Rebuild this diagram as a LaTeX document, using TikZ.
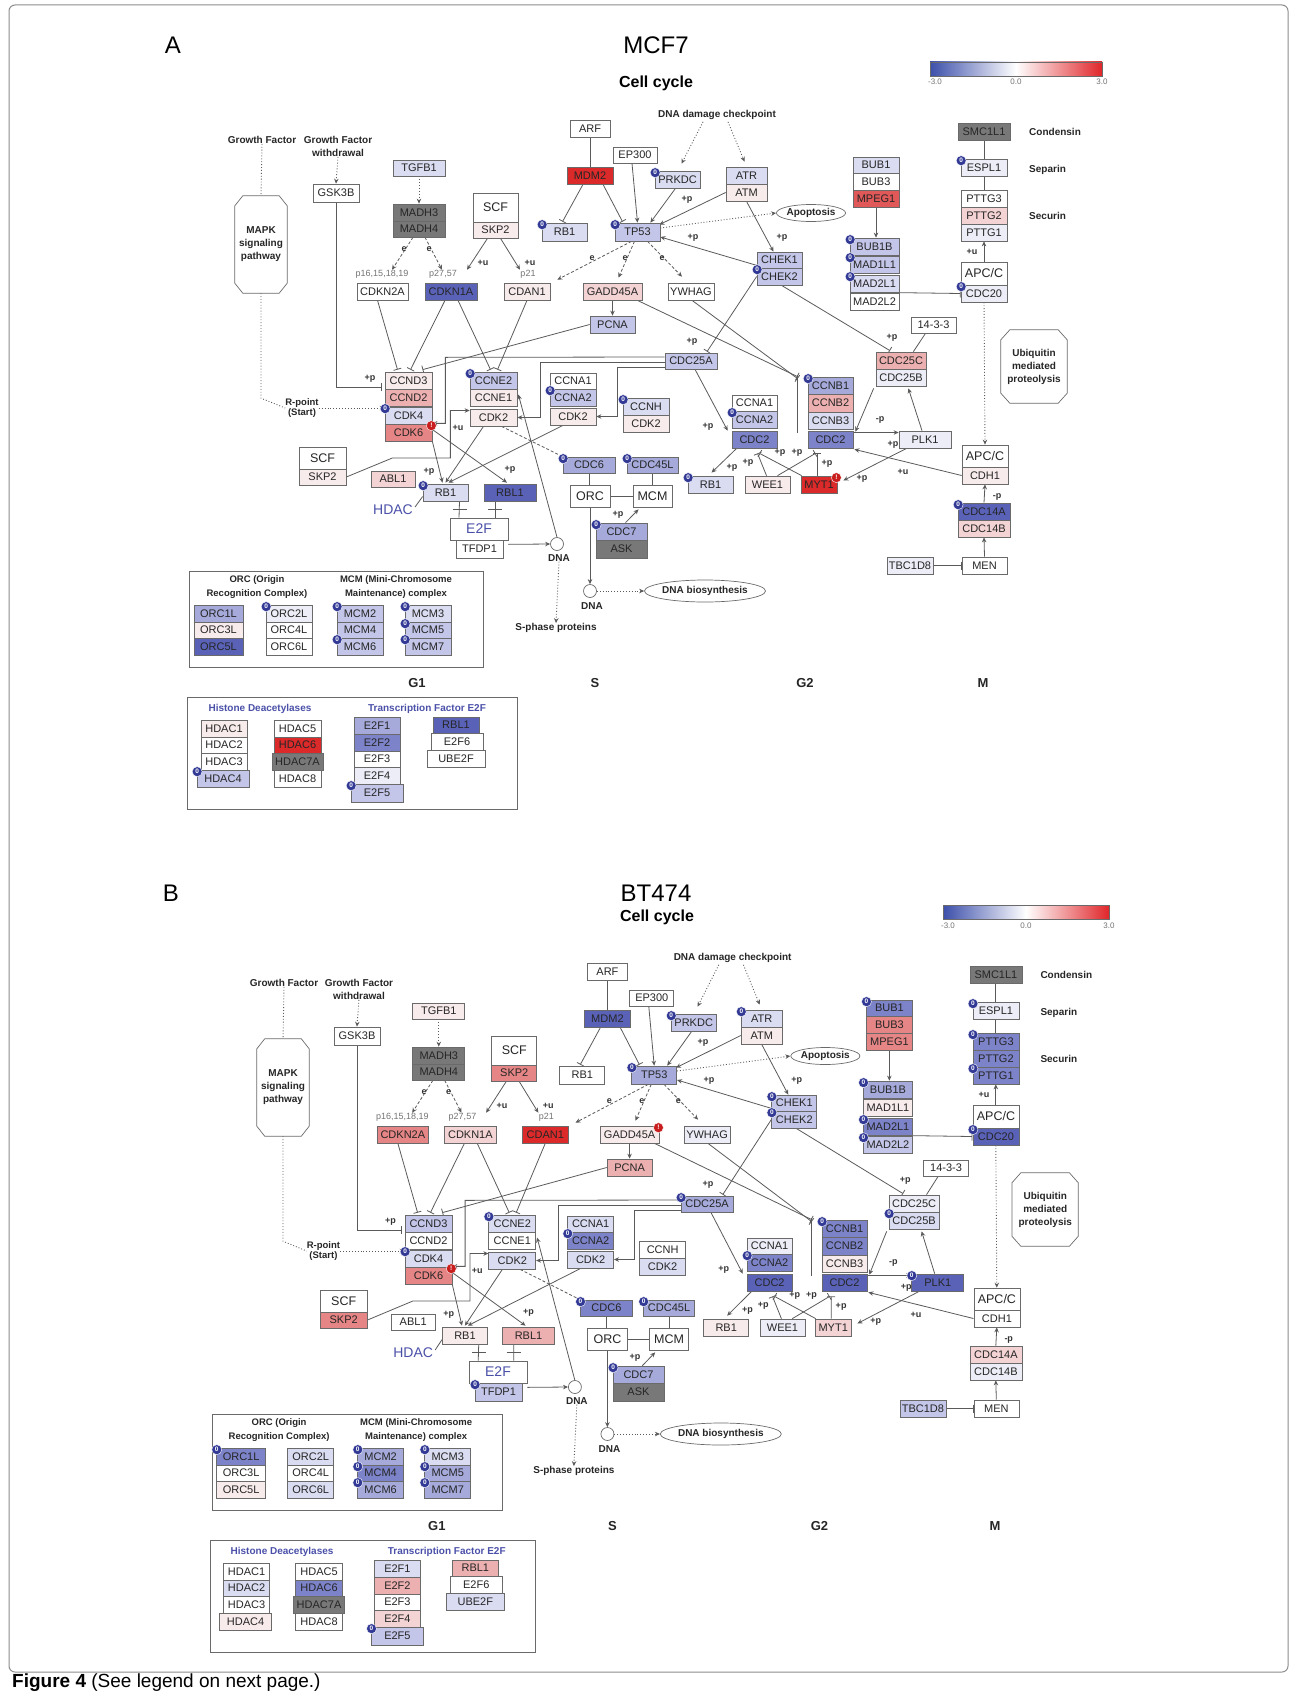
\documentclass[tikz,border=0pt]{standalone}
\usepackage{fontspec}
\setmainfont{Liberation Sans}
\usetikzlibrary{arrows.meta,calc,shapes.geometric}
\pgfdeclarelayer{bg}\pgfsetlayers{bg,main}
\definecolor{W}{HTML}{FFFFFF}
\definecolor{P1}{HTML}{F8EBEB}
\definecolor{P2}{HTML}{F3D3D3}
\definecolor{P3}{HTML}{EDB0B0}
\definecolor{P4}{HTML}{E58585}
\definecolor{P5}{HTML}{E05858}
\definecolor{P6}{HTML}{DC2A2A}
\definecolor{B1}{HTML}{ECEDF7}
\definecolor{B2}{HTML}{DADCF1}
\definecolor{B3}{HTML}{C3C6E8}
\definecolor{B4}{HTML}{A5AADB}
\definecolor{B5}{HTML}{7C83C9}
\definecolor{B6}{HTML}{5A62B8}
\definecolor{G}{HTML}{787878}
\definecolor{bx}{HTML}{6A6A6A}
\definecolor{lc}{HTML}{5A5A5A}
\definecolor{navy}{HTML}{333A96}
\definecolor{rbd}{HTML}{C81E1E}
\definecolor{hblue}{HTML}{4A50A8}
\definecolor{cbB}{HTML}{3C4FAA}
\definecolor{cbR}{HTML}{E0262A}
\newcommand\kc[2]{\colorlet{c#1}{#2}}
\newcommand\bxf{\fontsize{11}{12}\selectfont}
\newcommand\bgf{\fontsize{12.5}{14}\selectfont}
\newcommand\efont{\fontsize{14}{15}\selectfont}
\newcounter{lbc}
\newcommand\lab[3]{\stepcounter{lbc}\node[elab] (lb\arabic{lbc}) at (#1,#2) {#3};}
\newcommand\bx[7][]{\pgfmathsetmacro\bxw{#5-#3}\pgfmathsetmacro\bxh{#6-#4}\pgfmathsetmacro\bxx{(#3+#5)/2}\pgfmathsetmacro\bxy{(#4+#6)/2}\node[gbox,fill=c#2,minimum width=\bxw pt,minimum height=\bxh pt,#1] (#2) at (\bxx,\bxy) {#7};}
\tikzset{
 gbox/.style={draw=bx, line width=0.7pt, inner sep=0pt, font=\bxf, text=black!85},
 bxl/.style={draw=bx, line width=0.7pt},
 ln/.style={draw=lc, line width=0.8pt},
 ar/.style={-{Stealth[length=5pt,width=4.5pt]}},
 tb/.style={-{Bar[width=8pt]}},
 dl/.style={draw=lc, line width=0.9pt, dotted},
 dsh/.style={draw=lc, line width=0.8pt, dash pattern=on 3pt off 2pt},
 elab/.style={font=\bfseries\fontsize{9}{10}\selectfont, text=black!80, inner sep=0pt},
 ann/.style={font=\bfseries\fontsize{10}{13}\selectfont, align=center, inner sep=0pt, text=black!85},
 sml/.style={font=\fontsize{9}{10}\selectfont, text=black!55, inner sep=0pt},
 phase/.style={font=\bfseries\fontsize{13}{15}\selectfont, text=black!85, inner sep=0pt},
 bdg/.style={circle, fill=navy, draw=white, line width=0.4pt, inner sep=0pt, minimum size=10pt, text=white, font=\bfseries\fontsize{6.5}{7}\selectfont},
 rbdg/.style={bdg, fill=rbd},
}
\newcommand\octo[3]{\draw[bxl] ([xshift=#2]#1.north west) -- ([xshift=-#2]#1.north east) -- ([yshift=-#3]#1.north east) -- ([yshift=#3]#1.south east) -- ([xshift=-#2]#1.south east) -- ([xshift=#2]#1.south west) -- ([yshift=#3]#1.south west) -- ([yshift=-#3]#1.north west) -- cycle;}
\newcommand\drawpanel{%
\node[ann] (gf) at (262,140) {Growth Factor};
\node[ann] (gfw) at (338,146.5) {Growth Factor\\withdrawal};
\node[ann, minimum width=52pt, minimum height=97pt] (MAPK) at (261,244.5) {MAPK\\signaling\\pathway};
\octo{MAPK}{8pt}{10pt}
\node[ann, font=\bfseries\fontsize{9.5}{10.5}\selectfont] (rpt) at (302,408) {R-point\\(Start)};
\node[ann] (ddc) at (717,115) {DNA damage checkpoint};
\node[sml] (lp16) at (382,274) {p16,15,18,19};
\node[sml] (lp27) at (443,274) {p27,57};
\node[sml] (lp21) at (528,274) {p21};
\node[font=\fontsize{14}{16}\selectfont, text=hblue, inner sep=0pt] (hdac) at (393,510) {HDAC};
\node[ann, anchor=west] (cond) at (1029,132) {Condensin};
\node[ann, anchor=west] (sepa) at (1029,170) {Separin};
\node[ann, anchor=west] (secu) at (1029,216) {Securin};
\node[ann, minimum width=66pt, minimum height=73pt] (UBQ) at (1034,366.5) {Ubiquitin\\mediated\\proteolysis};
\octo{UBQ}{9pt}{10pt}
\node[ann, ellipse, draw=bx, line width=0.7pt, minimum width=68pt, minimum height=17pt] (apop) at (811,213) {Apoptosis};
\node[ann, ellipse, draw=bx, line width=0.7pt, minimum width=96pt, minimum height=22pt] (dnab) at (705,591) {DNA biosynthesis};
\node[circle, draw=bx, line width=0.7pt, minimum size=13pt, inner sep=0pt] (dna1) at (557,544) {};
\node[ann] (dna1l) at (559,558) {DNA};
\node[circle, draw=bx, line width=0.7pt, minimum size=13pt, inner sep=0pt] (dna2) at (590,591) {};
\node[ann] (dna2l) at (592,606) {DNA};
\node[ann] (sph) at (556,628) {S-phase proteins};
\node[phase] (ph1) at (417,683) {G1};
\node[phase] (ph2) at (595,683) {S};
\node[phase] (ph3) at (805,683) {G2};
\node[phase] (ph4) at (983,683) {M};
% boxes
\bx{TGFB1}{393}{160}{445}{176}{TGFB1}
\bx{GSK3B}{313}{184}{359}{202}{GSK3B}
\bx{MADH3}{393}{204}{445}{221}{MADH3}
\bx{MADH4}{393}{221}{445}{237}{MADH4}
\bx[font=\bgf]{SCFa}{473}{193}{518}{222}{SCF}
\bx{SKP2a}{473}{222}{518}{238}{SKP2}
\bx{CDKN2A}{357}{283}{408}{300}{CDKN2A}
\bx{CDKN1A}{425}{283}{477}{300}{CDKN1A}
\bx{CDAN1}{504}{283}{550}{300}{CDAN1}
\bx{ARF}{570}{120}{610}{137}{ARF}
\bx{MDM2}{567}{167}{613}{184}{MDM2}
\bx{RB1a}{542}{223}{587}{241}{RB1}
\bx{EP300}{613}{147}{657}{163}{EP300}
\bx{PRKDC}{655}{171}{700}{188}{PRKDC}
\bx{ATR}{726}{167}{767}{184}{ATR}
\bx{ATM}{726}{184}{767}{201}{ATM}
\bx{TP53}{615}{223}{660}{241}{TP53}
\bx{CHEK1}{757}{252}{802}{268}{CHEK1}
\bx{CHEK2}{757}{268}{802}{285}{CHEK2}
\bx{GADD45A}{583}{283}{642}{300}{GADD45A}
\bx{YWHAG}{668}{283}{714}{300}{YWHAG}
\bx{PCNA}{590}{316}{635}{333}{PCNA}
\bx{BUB1}{853}{157}{899}{173}{BUB1}
\bx{BUB3}{853}{173}{899}{190}{BUB3}
\bx{MPEG1}{853}{190}{899}{207}{MPEG1}
\bx{BUB1B}{850}{238}{899}{255}{BUB1B}
\bx{MAD1L1}{850}{256}{899}{273}{MAD1L1}
\bx{MAD2L1}{850}{275}{899}{292}{MAD2L1}
\bx{MAD2L2}{850}{293}{899}{310}{MAD2L2}
\bx{SMC1L1}{958}{123}{1010}{140}{SMC1L1}
\bx{ESPL1}{961}{159}{1007}{176}{ESPL1}
\bx{PTTG3}{961}{190}{1007}{207}{PTTG3}
\bx{PTTG2}{961}{207}{1007}{224}{PTTG2}
\bx{PTTG1}{961}{224}{1007}{241}{PTTG1}
\bx[font=\bgf]{APCa}{961}{262}{1007}{285}{APC/C}
\bx{CDC20}{961}{285}{1007}{302}{CDC20}
\bx{T1433}{911}{317}{956}{333}{14-3-3}
\bx{CDC25C}{876}{352}{926}{369}{CDC25C}
\bx{CDC25B}{876}{369}{926}{386}{CDC25B}
\bx{CDC25A}{665}{353}{717}{369}{CDC25A}
\bx{CCND3}{385}{372}{432}{389}{CCND3}
\bx{CCND2}{385}{389}{432}{406}{CCND2}
\bx{CDK4}{385}{407}{432}{424}{CDK4}
\bx{CDK6}{385}{424}{432}{441}{CDK6}
\bx{CCNE2}{470}{372}{517}{389}{CCNE2}
\bx{CCNE1}{470}{389}{517}{406}{CCNE1}
\bx{CDK2e}{470}{409}{517}{426}{CDK2}
\bx{CCNA1a}{550}{373}{596}{389}{CCNA1}
\bx{CCNA2a}{550}{389}{596}{406}{CCNA2}
\bx{CDK2a}{550}{408}{596}{425}{CDK2}
\bx{CCNH}{623}{398}{669}{415}{CCNH}
\bx{CDK2h}{623}{415}{669}{432}{CDK2}
\bx{CCNA1g}{732}{395}{777}{411}{CCNA1}
\bx{CCNA2g}{732}{411}{777}{428}{CCNA2}
\bx{CDC2a}{732}{431}{777}{448}{CDC2}
\bx{CCNB1}{808}{377}{853}{394}{CCNB1}
\bx{CCNB2}{808}{394}{853}{412}{CCNB2}
\bx{CCNB3}{808}{412}{853}{429}{CCNB3}
\bx{CDC2b}{808}{431}{853}{448}{CDC2}
\bx{PLK1}{899}{431}{951}{448}{PLK1}
\bx{RB1g}{688}{476}{733}{493}{RB1}
\bx{WEE1}{745}{476}{790}{493}{WEE1}
\bx{MYT1}{801}{476}{837}{493}{MYT1}
\bx[font=\bgf]{APCb}{962}{445}{1008}{467}{APC/C}
\bx{CDH1}{962}{467}{1008}{484}{CDH1}
\bx{CDC14A}{958}{503}{1010}{520}{CDC14A}
\bx{CDC14B}{958}{520}{1010}{537}{CDC14B}
\bx{MEN}{962}{557}{1007}{574}{MEN}
\bx{TBC1D8}{887}{557}{933}{574}{TBC1D8}
\bx[font=\bgf]{SCFb}{299}{447}{346}{469}{SCF}
\bx{SKP2b}{299}{469}{346}{485}{SKP2}
\bx{ABL1}{371}{471}{415}{487}{ABL1}
\bx{RB1b}{423}{484}{468}{501}{RB1}
\bx{RBL1}{484}{484}{536}{501}{RBL1}
\bx[font=\efont,text=hblue]{E2F}{450}{518}{508}{540}{E2F}
\bx{TFDP1}{456}{540}{503}{558}{TFDP1}
\bx{CDC6}{563}{457}{615}{473}{CDC6}
\bx{CDC45L}{627}{457}{678}{473}{CDC45L}
\bx[font=\bgf]{ORC}{570}{485}{610}{507}{ORC}
\bx[font=\bgf]{MCM}{633}{485}{672}{507}{MCM}
\bx{CDC7}{596}{523}{647}{540}{CDC7}
\bx{ASK}{596}{540}{647}{558}{ASK}
% legend 1
\draw[bxl] (189,571) rectangle (483,667);
\node[ann, font=\bfseries\fontsize{9.5}{14}\selectfont] (lg1) at (257,587) {ORC (Origin\\Recognition Complex)};
\node[ann, font=\bfseries\fontsize{9.5}{14}\selectfont] (lg2) at (396,587) {MCM (Mini-Chromosome\\Maintenance) complex};
\bx{ORC1L}{194}{605}{243}{622}{ORC1L}
\bx{ORC3L}{194}{622}{243}{638}{ORC3L}
\bx{ORC5L}{194}{638}{243}{655}{ORC5L}
\bx{ORC2L}{266}{605}{312}{622}{ORC2L}
\bx{ORC4L}{266}{622}{312}{638}{ORC4L}
\bx{ORC6L}{266}{638}{312}{655}{ORC6L}
\bx{MCM2}{337}{605}{383}{622}{MCM2}
\bx{MCM4}{337}{622}{383}{638}{MCM4}
\bx{MCM6}{337}{638}{383}{655}{MCM6}
\bx{MCM3}{405}{605}{451}{622}{MCM3}
\bx{MCM5}{405}{622}{451}{638}{MCM5}
\bx{MCM7}{405}{638}{451}{655}{MCM7}
% legend 2
\draw[bxl] (187,697) rectangle (517,809);
\node[ann, text=hblue, font=\bfseries\fontsize{10}{11}\selectfont] (lg3) at (260,709) {Histone Deacetylases};
\node[ann, text=hblue, font=\bfseries\fontsize{10}{11}\selectfont] (lg4) at (427,709) {Transcription Factor E2F};
\bx{HDAC1}{201}{720}{247}{737}{HDAC1}
\bx{HDAC2}{201}{737}{247}{753}{HDAC2}
\bx{HDAC3}{201}{753}{247}{770}{HDAC3}
\bx{HDAC4}{197}{770}{249}{787}{HDAC4}
\bx{HDAC5}{274}{720}{321}{737}{HDAC5}
\bx{HDAC6}{274}{737}{321}{753}{HDAC6}
\bx{HDAC7A}{272}{753}{323}{770}{HDAC7A}
\bx{HDAC8}{274}{770}{321}{787}{HDAC8}
\bx{E2F1}{354}{717}{400}{734}{E2F1}
\bx{E2F2}{354}{734}{400}{751}{E2F2}
\bx{E2F3}{354}{751}{400}{767}{E2F3}
\bx{E2F4}{354}{767}{400}{784}{E2F4}
\bx{E2F5}{351}{784}{403}{802}{E2F5}
\bx{RBL1L}{433}{717}{479}{733}{RBL1}
\bx{E2F6}{431}{733}{483}{750}{E2F6}
\bx{UBE2F}{427}{750}{485}{767}{UBE2F}
% edge labels
\lab{370}{379}{+p}
\lab{404}{249}{e}\lab{429}{249}{e}
\lab{483}{263}{+u}\lab{530}{263}{+u}
\lab{687}{200}{+p}\lab{782}{238}{+p}\lab{693}{238}{+p}
\lab{592}{258}{e}\lab{625}{258}{e}\lab{662}{258}{e}
\lab{692}{342}{+p}\lab{892}{338}{+p}\lab{708}{427}{+p}\lab{880}{420}{-p}
\lab{458}{428}{+u}\lab{429}{472}{+p}\lab{510}{470}{+p}\lab{618}{515}{+p}
\lab{732}{468}{+p}\lab{748}{463}{+p}\lab{780}{453}{+p}\lab{797}{453}{+p}\lab{827}{464}{+p}
\lab{862}{479}{+p}\lab{893}{445}{+p}\lab{903}{472}{+u}\lab{997}{497}{-p}\lab{972}{252}{+u}
% edges
\begin{pgfonlayer}{bg}
\draw[dl] (gf.south) -- (MAPK.north);
\draw[dl] (MAPK.south) -- ++(0,105) -- (rpt.west);
\draw[dl,ar] (rpt.east) -- (rpt.east -| CDK4.west);
\draw[dl,ar] (gfw.south) -- (GSK3B.north);
\draw[dl,ar] (TGFB1.south) -- (MADH3.north);
\draw[ln,tb] (GSK3B.south) |- ($(CCND3.south west)+(-3,-2)$);
\draw[dsh,ar] ($(MADH4.south)+(-6,0)$) -- ($(lp16.north)+(10,0)$);
\draw[dsh,ar] ($(MADH4.south)+(6,0)$) -- ($(lp27.north)+(-1,0)$);
\draw[ln,ar] ($(SKP2a.south)+(-8,0)$) -- ($(lp27.north)+(24,0)$);
\draw[ln,ar] ($(SKP2a.south)+(5,0)$) -- ($(lp21.north)+(-8,0)$);
\draw[ln,tb] ($(CDKN2A.south)+(-5,0)$) -- ($(CCND3.north)+(-11,-2)$);
\draw[ln,tb] ($(CDKN1A.south)+(-6,0)$) -- ($(CCND3.north)+(2,-2)$);
\draw[ln,tb] ($(CDKN1A.south)+(7,0)$) -- ($(CCNE2.north)+(-3,-2)$);
\draw[ln,tb] (CDAN1.south) -- ($(CCNE2.north)+(4,-2)$);
\draw[ln,tb] (PCNA.west) -- ($(CCND3.north)+(14,-2)$);
\draw[ln] (ARF.south) -- (MDM2.north);
\draw[ln,tb] ($(MDM2.south)+(-7,0)$) -- ($(RB1a.north)+(-2,-1)$);
\draw[ln,tb] ($(MDM2.south)+(13,0)$) -- ($(TP53.north)+(-15,-1)$);
\draw[ln,ar] ($(EP300.south)+(-3,0)$) -- (TP53.north);
\draw[ln,ar] ($(PRKDC.south)+(-2,0)$) -- ($(TP53.north east)+(-10,0)$);
\draw[ln,ar] (ATM.west) -- ($(TP53.north east)+(-1,2)$);
\draw[ln,ar] (ATM.south) -- ($(CHEK1.north)+(-6,0)$);
\draw[ln,ar] ($(CHEK1.south west)+(0,-3)$) -- ($(TP53.east)+(0,5)$);
\draw[dl,ar] ($(TP53.east)+(0,-4)$) -- (apop.west);
\draw[dl,ar] ($(ddc.south)+(-14,2)$) -- ($(PRKDC.north)+(4,-7)$);
\draw[dl,ar] ($(ddc.south)+(11,2)$) -- ($(ATR.north)+(-2,-5)$);
\draw[dsh,ar] ($(TP53.south)+(-6,0)$) -- ($(CDAN1.north east)+(7,-3)$);
\draw[dsh,ar] ($(TP53.south)+(-3,0)$) -- ($(GADD45A.north)+(6,-5)$);
\draw[dsh,ar] ($(TP53.south)+(10,0)$) -- ($(YWHAG.north)+(-9,-6)$);
\draw[ln,ar] (GADD45A.south) -- (PCNA.north);
\draw[ln,tb] (CHEK2.west) -- ($(CDC25A.north)+(16,-1)$);
\draw[ln,tb] ($(CHEK2.south)+(2,0)$) -- ($(CDC25C.north)+(-11,-1)$);
\draw[ln,tb] ($(GADD45A.south east)+(-5,0)$) -- ($(CCNB1.north west)+(-10,0)$);
\draw[ln,tb] ($(YWHAG.south)+(1,0)$) -- ($(CCNB1.north west)+(-10,2)$);
\draw[ln] ($(CCNB1.north west)+(-10,-2)$) -- ($(CDC2b.north west)+(-10,2)$);
\draw[ln] ($(T1433.south)+(-8,0)$) -- ($(CDC25C.north east)+(-13,0)$);
\draw[ln,ar] ($(CDC25A.south)+(4,0)$) -- ($(CDC2a.north west)+(-4,0)$);
\draw[ln,ar] ($(CDC25A.west)+(0,-4)$) -- ($(CDK4.south east)+(13,-67)$) -- ($(CDK4.south east)+(13,-1)$) -- ($(CDK4.south east)+(0,-1)$);
\draw[ln,ar] ($(CDC25A.west)+(0,1)$) -| ($(CDK2e.east)+(23,0)$) -- (CDK2e.east);
\draw[ln,ar] ($(CDC25A.west)+(0,6)$) -| ($(CDK2a.east)+(21,0)$) -- (CDK2a.east);
\draw[ln,ar] (SKP2b.east) -- ++(46,-19) -- ++(58,0) |- ($(CDK2e.west)+(0,-7)$);
\draw[ln,ar] (dna1.north) -- ($(CCNE1.east)+(1,-3)$);
\draw[ln,ar] (CDK6.south east) -- ($(RB1b.north)+(-3,-1)$);
\draw[ln,ar] ($(CDK2e.south)+(-10,0)$) -- ($(RB1b.north)+(0,-1)$);
\draw[ln,ar] ($(CDK2a.south)+(-10,0)$) -- ($(RB1b.north)+(3,-1)$);
\draw[ln,ar] ($(CDK6.east)+(0,-3)$) -- ($(RBL1.north)+(-3,-1)$);
\draw[ln] ($(hdac.east)+(2,-3)$) -- ($(RB1b.west)+(0,4)$);
\draw[ln] ($(RB1b.south)+(14,0)$) -- ($(E2F.north)+(-20,0)$);
\draw[ln] ($(RB1b.south)+(7,8)$) -- ++(14,0);
\draw[ln] ($(RBL1.south)+(-15,0)$) -- ($(E2F.north)+(16,0)$);
\draw[ln] ($(RBL1.south)+(-22,8)$) -- ++(14,0);
\draw[ln,ar] ($(E2F.south east)+(0,4)$) -- (dna1.west);
\draw[dl,ar] (dna1l.south) -- (sph.north);
\draw[dsh] ($(CDK2e.south)+(8,0)$) -- ($(CDC6.north west)+(-2,-1)$);
\draw[ln] (CDC6.south) -- (CDC6.south |- ORC.north);
\draw[ln] (CDC45L.south) -- (CDC45L.south |- MCM.north);
\draw[ln] (ORC.east) -- (MCM.west);
\draw[ln,ar] ($(CDC7.north)+(4,0)$) -- ($(MCM.south)+(-14,2)$);
\draw[ln,ar] (ORC.south) -- (dna2.north);
\draw[dl,ar] (dna2.east) -- (dnab.west);
\draw[ln,ar] ($(CDC2a.south west)+(5,0)$) -- ($(RB1g.north)+(1,-3)$);
\draw[ln,tb] ($(WEE1.north)+(-1,0)$) -- ($(CDC2a.south)+(3,5)$);
\draw[ln,tb] ($(WEE1.north)+(10,0)$) -- ($(CDC2b.south)+(-15,5)$);
\draw[ln,tb] ($(MYT1.north west)+(1,0)$) -- ($(CDC2a.south)+(5,5)$);
\draw[ln,tb] ($(MYT1.north)+(-2,0)$) -- ($(CDC2b.south)+(-13.5,5)$);
\draw[ln,ar] ($(CDC2b.east)+(0,-7)$) -- ($(PLK1.west)+(0,-7)$);
\draw[ln,ar] ($(PLK1.north)+(-3,0)$) -- ($(CDC25B.south east)+(-18,2)$);
\draw[ln,ar] ($(PLK1.south west)+(8,0)$) -- ($(MYT1.east)+(6,-4)$);
\draw[ln,ar] ($(CDC25B.south west)+(-2,2)$) -- ($(CDC2b.north east)+(2,1)$);
\draw[ln,ar] (CDH1.west) -- ($(CDC2b.south east)+(1,1)$);
\draw[dl,ar] (CDC20.south) -- (APCb.north);
\draw[ln,ar] (CDC14A.north) -- (CDH1.south);
\draw[ln,ar] (MEN.north) -- (CDC14B.south);
\draw[ln,tb] (TBC1D8.east) -- (MEN.west);
\draw[ln,tb] (ESPL1.north) -- (SMC1L1.south);
\draw[ln,tb] (PTTG3.north) -- (ESPL1.south);
\draw[ln,ar] (APCa.north) -- (PTTG1.south);
\draw[ln,tb] (MAD2L2.north east) -- (CDC20.west);
\draw[ln,ar] (MPEG1.south) -- (MPEG1.south |- BUB1B.north);
\end{pgfonlayer}
}
\begin{document}
\begin{tikzpicture}[x=1pt,y=-1pt]
\useasboundingbox (0,0) rectangle (1295,1694);
\draw[draw=black!45, line width=1pt, rounded corners=6pt] (9,5) rectangle (1288,1672);
\node[anchor=west, font=\fontsize{19}{22}\selectfont, inner sep=0pt] (cap) at (12,1683) {\textbf{Figure 4} (See legend on next page.)};
% titles A
\node[font=\fontsize{24}{28}\selectfont, inner sep=0pt] (tA) at (173,45) {A};
\node[font=\fontsize{24}{28}\selectfont, inner sep=0pt] (tMCF) at (656,45) {MCF7};
\node[font=\bfseries\fontsize{16}{18}\selectfont, inner sep=0pt] (ccA) at (656,83) {Cell cycle};
\shadedraw[left color=cbB, right color=cbR, middle color=white, draw=bx] (930,62) rectangle (1102,76);
\node[sml, font=\fontsize{8}{9}\selectfont] (cbA1) at (935,82) {-3.0};
\node[sml, font=\fontsize{8}{9}\selectfont] (cbA2) at (1016,82) {0.0};
\node[sml, font=\fontsize{8}{9}\selectfont] (cbA3) at (1102,82) {3.0};
% titles B
\node[font=\fontsize{24}{28}\selectfont, inner sep=0pt] (tB) at (171,893) {B};
\node[font=\fontsize{24}{28}\selectfont, inner sep=0pt] (tBT) at (656,893) {BT474};
\node[font=\bfseries\fontsize{16}{18}\selectfont, inner sep=0pt] (ccB) at (657,917) {Cell cycle};
\shadedraw[left color=cbB, right color=cbR, middle color=white, draw=bx] (943,905) rectangle (1109,919);
\node[sml, font=\fontsize{8}{9}\selectfont] (cbB1) at (948,926) {-3.0};
\node[sml, font=\fontsize{8}{9}\selectfont] (cbB2) at (1026,926) {0.0};
\node[sml, font=\fontsize{8}{9}\selectfont] (cbB3) at (1109,926) {3.0};
% panel A
\begin{scope}[name prefix=a-]
\kc{TGFB1}{B2}\kc{GSK3B}{W}\kc{MADH3}{G}\kc{MADH4}{G}\kc{SCFa}{W}\kc{SKP2a}{P1}\kc{CDKN2A}{W}\kc{CDKN1A}{B6}\kc{CDAN1}{P1}\kc{ARF}{W}\kc{MDM2}{P6}\kc{RB1a}{B2}\kc{EP300}{W}\kc{PRKDC}{B2}\kc{ATR}{B2}\kc{ATM}{P1}\kc{TP53}{B3}\kc{CHEK1}{B3}\kc{CHEK2}{B3}\kc{GADD45A}{P2}\kc{YWHAG}{W}\kc{PCNA}{B3}
\kc{BUB1}{B2}\kc{BUB3}{W}\kc{MPEG1}{P5}\kc{BUB1B}{B3}\kc{MAD1L1}{B3}\kc{MAD2L1}{B2}\kc{MAD2L2}{W}\kc{SMC1L1}{G}\kc{ESPL1}{B1}\kc{PTTG3}{W}\kc{PTTG2}{P2}\kc{PTTG1}{B1}\kc{APCa}{W}\kc{CDC20}{B1}\kc{T1433}{W}\kc{CDC25C}{P3}\kc{CDC25B}{B1}\kc{CDC25A}{B3}
\kc{CCND3}{P1}\kc{CCND2}{P3}\kc{CDK4}{B2}\kc{CDK6}{P4}\kc{CCNE2}{B3}\kc{CCNE1}{P1}\kc{CDK2e}{P1}\kc{CCNA1a}{W}\kc{CCNA2a}{B3}\kc{CDK2a}{P1}\kc{CCNH}{B2}\kc{CDK2h}{P1}\kc{CCNA1g}{W}\kc{CCNA2g}{B3}\kc{CDC2a}{B5}\kc{CCNB1}{B4}\kc{CCNB2}{P3}\kc{CCNB3}{B2}\kc{CDC2b}{B5}\kc{PLK1}{B1}\kc{RB1g}{B2}\kc{WEE1}{P1}\kc{MYT1}{P6}
\kc{APCb}{W}\kc{CDH1}{P1}\kc{CDC14A}{B6}\kc{CDC14B}{P2}\kc{MEN}{W}\kc{TBC1D8}{B1}\kc{SCFb}{W}\kc{SKP2b}{P1}\kc{ABL1}{P2}\kc{RB1b}{B2}\kc{RBL1}{B6}\kc{E2F}{W}\kc{TFDP1}{W}\kc{CDC6}{B4}\kc{CDC45L}{B4}\kc{ORC}{W}\kc{MCM}{W}\kc{CDC7}{B4}\kc{ASK}{G}
\kc{ORC1L}{B4}\kc{ORC3L}{P1}\kc{ORC5L}{B6}\kc{ORC2L}{B1}\kc{ORC4L}{W}\kc{ORC6L}{W}\kc{MCM2}{B3}\kc{MCM4}{B3}\kc{MCM6}{B3}\kc{MCM3}{B2}\kc{MCM5}{B3}\kc{MCM7}{B3}
\kc{HDAC1}{P1}\kc{HDAC2}{W}\kc{HDAC3}{W}\kc{HDAC4}{B3}\kc{HDAC5}{W}\kc{HDAC6}{P6}\kc{HDAC7A}{G}\kc{HDAC8}{W}\kc{E2F1}{B4}\kc{E2F2}{B5}\kc{E2F3}{W}\kc{E2F4}{B1}\kc{E2F5}{B3}\kc{RBL1L}{B6}\kc{E2F6}{W}\kc{UBE2F}{W}
\drawpanel
\foreach \n in {RB1a,PRKDC,TP53,CHEK2,BUB1B,MAD1L1,MAD2L1,ESPL1,CDC20,CCNE2,CDK4,CCNA2a,CCNH,CCNA2g,CCNB1,RB1g,CDC14A,RB1b,CDC6,CDC45L,CDC7,ORC2L,MCM2,MCM6,MCM3,MCM5,MCM7,HDAC4,E2F5}
 {\node[bdg] (bd\n) at ([xshift=0.5pt,yshift=-2pt]\n.north west) {0};}
\foreach \n in {CDK6,MYT1}
 {\node[rbdg] (bd\n) at ([xshift=-1pt,yshift=-2pt]\n.north east) {!};}
\end{scope}
% panel B
\begin{scope}[name prefix=b-, shift={(25.7,843)}, xscale=0.986]
\kc{TGFB1}{P1}\kc{GSK3B}{W}\kc{MADH3}{G}\kc{MADH4}{G}\kc{SCFa}{W}\kc{SKP2a}{P4}\kc{CDKN2A}{P4}\kc{CDKN1A}{P2}\kc{CDAN1}{P6}\kc{ARF}{W}\kc{MDM2}{B6}\kc{RB1a}{W}\kc{EP300}{W}\kc{PRKDC}{B3}\kc{ATR}{B2}\kc{ATM}{P1}\kc{TP53}{B4}\kc{CHEK1}{B3}\kc{CHEK2}{B3}\kc{GADD45A}{P1}\kc{YWHAG}{B1}\kc{PCNA}{P3}
\kc{BUB1}{B5}\kc{BUB3}{P4}\kc{MPEG1}{P4}\kc{BUB1B}{B4}\kc{MAD1L1}{P1}\kc{MAD2L1}{B5}\kc{MAD2L2}{B3}\kc{SMC1L1}{G}\kc{ESPL1}{B1}\kc{PTTG3}{B5}\kc{PTTG2}{B5}\kc{PTTG1}{B5}\kc{APCa}{W}\kc{CDC20}{B6}\kc{T1433}{W}\kc{CDC25C}{B1}\kc{CDC25B}{B2}\kc{CDC25A}{B4}
\kc{CCND3}{B3}\kc{CCND2}{W}\kc{CDK4}{B2}\kc{CDK6}{P4}\kc{CCNE2}{B2}\kc{CCNE1}{W}\kc{CDK2e}{B2}\kc{CCNA1a}{B2}\kc{CCNA2a}{B5}\kc{CDK2a}{B2}\kc{CCNH}{W}\kc{CDK2h}{B2}\kc{CCNA1g}{B1}\kc{CCNA2g}{B5}\kc{CDC2a}{B6}\kc{CCNB1}{B5}\kc{CCNB2}{B5}\kc{CCNB3}{P1}\kc{CDC2b}{B6}\kc{PLK1}{B6}\kc{RB1g}{P1}\kc{WEE1}{B1}\kc{MYT1}{P2}
\kc{APCb}{W}\kc{CDH1}{W}\kc{CDC14A}{P2}\kc{CDC14B}{B1}\kc{MEN}{W}\kc{TBC1D8}{B3}\kc{SCFb}{W}\kc{SKP2b}{P4}\kc{ABL1}{W}\kc{RB1b}{P1}\kc{RBL1}{P3}\kc{E2F}{W}\kc{TFDP1}{B3}\kc{CDC6}{B5}\kc{CDC45L}{B4}\kc{ORC}{W}\kc{MCM}{W}\kc{CDC7}{B4}\kc{ASK}{G}
\kc{ORC1L}{B5}\kc{ORC3L}{W}\kc{ORC5L}{P1}\kc{ORC2L}{B2}\kc{ORC4L}{W}\kc{ORC6L}{B2}\kc{MCM2}{B4}\kc{MCM4}{B5}\kc{MCM6}{B4}\kc{MCM3}{B2}\kc{MCM5}{B4}\kc{MCM7}{B4}
\kc{HDAC1}{W}\kc{HDAC2}{B2}\kc{HDAC3}{W}\kc{HDAC4}{P1}\kc{HDAC5}{W}\kc{HDAC6}{B5}\kc{HDAC7A}{G}\kc{HDAC8}{W}\kc{E2F1}{B2}\kc{E2F2}{P3}\kc{E2F3}{W}\kc{E2F4}{P2}\kc{E2F5}{B3}\kc{RBL1L}{P3}\kc{E2F6}{W}\kc{UBE2F}{B2}
\drawpanel
\foreach \n in {PRKDC,ATR,TP53,CHEK1,CHEK2,BUB1,BUB1B,MAD2L1,MAD2L2,ESPL1,PTTG3,PTTG1,CDC20,CDC25A,CDC25B,CCNE2,CDK4,CCNA2a,CCNA2g,CCNB1,PLK1,CDC6,CDC45L,CDC7,TFDP1,ORC1L,MCM2,MCM4,MCM6,MCM3,MCM5,MCM7,E2F5}
 {\node[bdg] (bd\n) at ([xshift=0.5pt,yshift=-2pt]\n.north west) {0};}
\foreach \n in {CDK6,GADD45A}
 {\node[rbdg] (bd\n) at ([xshift=-1pt,yshift=-2pt]\n.north east) {!};}
\end{scope}
\end{tikzpicture}
\end{document}
